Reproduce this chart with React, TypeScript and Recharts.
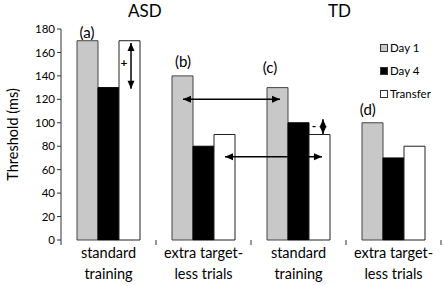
import React from 'react'
import {
  BarChart, Bar, XAxis, YAxis, ReferenceLine, ReferenceDot,
} from 'recharts'

const categories = ['standard\ntraining', 'extra target-\nless trials', 'standard\ntraining', 'extra target-\nless trials']
const day1 = [170, 140, 130, 100]
const day4 = [130, 80, 100, 70]
const transfer = [170, 90, 90, 80]
const yTicks = [0, 20, 40, 60, 80, 100, 120, 140, 160, 180]
const boundaryTicks = [0, 1, 2, 3, 4]

// annotations in data units (category index on the numeric axis, threshold in ms)
const panelLabels = [
  { text: '(a)', x: 0.274, y: 177 },
  { text: '(b)', x: 1.284, y: 152 },
  { text: '(c)', x: 2.2, y: 147 },
  { text: '(d)', x: 3.23, y: 111 },
]
const arrows = [
  { x1: 1.284, y1: 120, x2: 2.305, y2: 120 },
  { x1: 1.726, y1: 71, x2: 2.747, y2: 71 },
  { x1: 0.737, y1: 168, x2: 0.737, y2: 129 },
  { x1: 2.758, y1: 103, x2: 2.758, y2: 90.5 },
]
const signs = [
  { text: '+', x: 0.663, y: 151 },
  { text: '-', x: 2.663, y: 97 },
]

const data = categories.map((name, i) => ({
  name, pos: i + 0.5, day1: day1[i], day4: day4[i], transfer: transfer[i],
}))

const font = 'Lato, "Open Sans", sans-serif'

function head(x: number, y: number, dx: number, dy: number) {
  const len = Math.hypot(dx, dy) || 1
  const ux = dx / len, uy = dy / len
  const L = 8, W = 3.5
  const bx = x - ux * L, by = y - uy * L
  return `${x},${y} ${bx - uy * W},${by + ux * W} ${bx + uy * W},${by - ux * W}`
}

function ArrowShape(props: any) {
  const { x1, y1, x2, y2 } = props
  return (
    <g>
      <line x1={x1} y1={y1} x2={x2} y2={y2} stroke="#000" strokeWidth={1.5} />
      <polygon points={head(x2, y2, x2 - x1, y2 - y1)} fill="#000" />
      <polygon points={head(x1, y1, x1 - x2, y1 - y2)} fill="#000" />
    </g>
  )
}

// Excel-style tick marks between categories, hanging below the axis
function BoundaryTick(props: any) {
  const { x1, y1 } = props
  return <line x1={x1} x2={x1} y1={y1} y2={y1 + 5} stroke="#333" strokeWidth={1} />
}

function CategoryTick({ x, y, payload }: any) {
  const lines = String(payload.value).split('\n')
  return (
    <text x={x} y={y} textAnchor="middle" fontSize={14.5} fontFamily={font} fill="#000">
      {lines.map((l, i) => (
        <tspan key={i} x={x} dy={i === 0 ? 16 : 21}>{l}</tspan>
      ))}
    </text>
  )
}

const legendItems = [
  { label: 'Day 1', fill: '#c8c8c8' },
  { label: 'Day 4', fill: '#000' },
  { label: 'Transfer', fill: '#fff' },
]

export default function App() {
  return (
    <div style={{ position: 'relative', width: 444, height: 286, background: '#fff', fontFamily: font }}>
      <style>{'body{margin:0}'}</style>
      <BarChart width={444} height={286} data={data} barSize={21} barGap={0}
        margin={{ top: 29, right: 3, left: 0, bottom: 0 }}>
        <XAxis xAxisId="num" dataKey="pos" type="number" domain={[0, 4]} allowDataOverflow
          height={0} tick={false} tickLine={false} stroke="#333" />
        <XAxis dataKey="name" interval={0} axisLine={false} tickLine={false} tickSize={0} height={46} tick={<CategoryTick />} />
        <YAxis domain={[0, 180]} ticks={yTicks} width={61} tickSize={4} stroke="#333"
          tick={{ fontSize: 11.5, fill: '#000', fontFamily: font }}
          label={{ value: 'Threshold (ms)', angle: -90, position: 'insideLeft', offset: 13,
            style: { fontSize: 14.5, fill: '#000', fontFamily: font, textAnchor: 'middle' } }} />
        <Bar dataKey="day1" fill="#c8c8c8" stroke="#444" strokeWidth={1} isAnimationActive={false} />
        <Bar dataKey="day4" fill="#000" stroke="#000" strokeWidth={1} isAnimationActive={false} />
        <Bar dataKey="transfer" fill="#fff" stroke="#222" strokeWidth={1} isAnimationActive={false} />
        {boundaryTicks.map((b) => (
          <ReferenceLine key={'bt' + b} xAxisId="num" segment={[{ x: b, y: 0 }, { x: b, y: 0 }]}
            shape={BoundaryTick} ifOverflow="visible" />
        ))}
        {arrows.map((a, i) => (
          <ReferenceLine key={'ar' + i} xAxisId="num" segment={[{ x: a.x1, y: a.y1 }, { x: a.x2, y: a.y2 }]}
            shape={ArrowShape} ifOverflow="visible" />
        ))}
        {panelLabels.map((p, i) => (
          <ReferenceDot key={'pl' + i} xAxisId="num" x={p.x} y={p.y} ifOverflow="visible"
            shape={(s: any) => (
              <text x={s.cx} y={s.cy} dy={5} textAnchor="middle" fontSize={15} fontFamily={font} fill="#000">{p.text}</text>
            )} />
        ))}
        {signs.map((p, i) => (
          <ReferenceDot key={'sg' + i} xAxisId="num" x={p.x} y={p.y} ifOverflow="visible"
            shape={(s: any) => (
              <text x={s.cx} y={s.cy} dy={4} textAnchor="middle" fontSize={12} fontWeight="bold" fontFamily={font} fill="#000">{p.text}</text>
            )} />
        ))}
      </BarChart>
      <div style={{ position: 'absolute', left: 128, top: 0, fontSize: 17, lineHeight: '22px' }}>ASD</div>
      <div style={{ position: 'absolute', left: 328, top: 0, fontSize: 17, lineHeight: '22px' }}>TD</div>
      <div style={{ position: 'absolute', left: 380, top: 36, width: 58, fontSize: 11.5 }}>
        {legendItems.map((it) => (
          <div key={it.label} style={{ display: 'flex', alignItems: 'center', height: 23 }}>
            <span style={{ display: 'inline-block', width: 6, height: 6, background: it.fill, border: '1px solid #333', marginRight: 2 }} />
            <span>{it.label}</span>
          </div>
        ))}
      </div>
    </div>
  )
}
